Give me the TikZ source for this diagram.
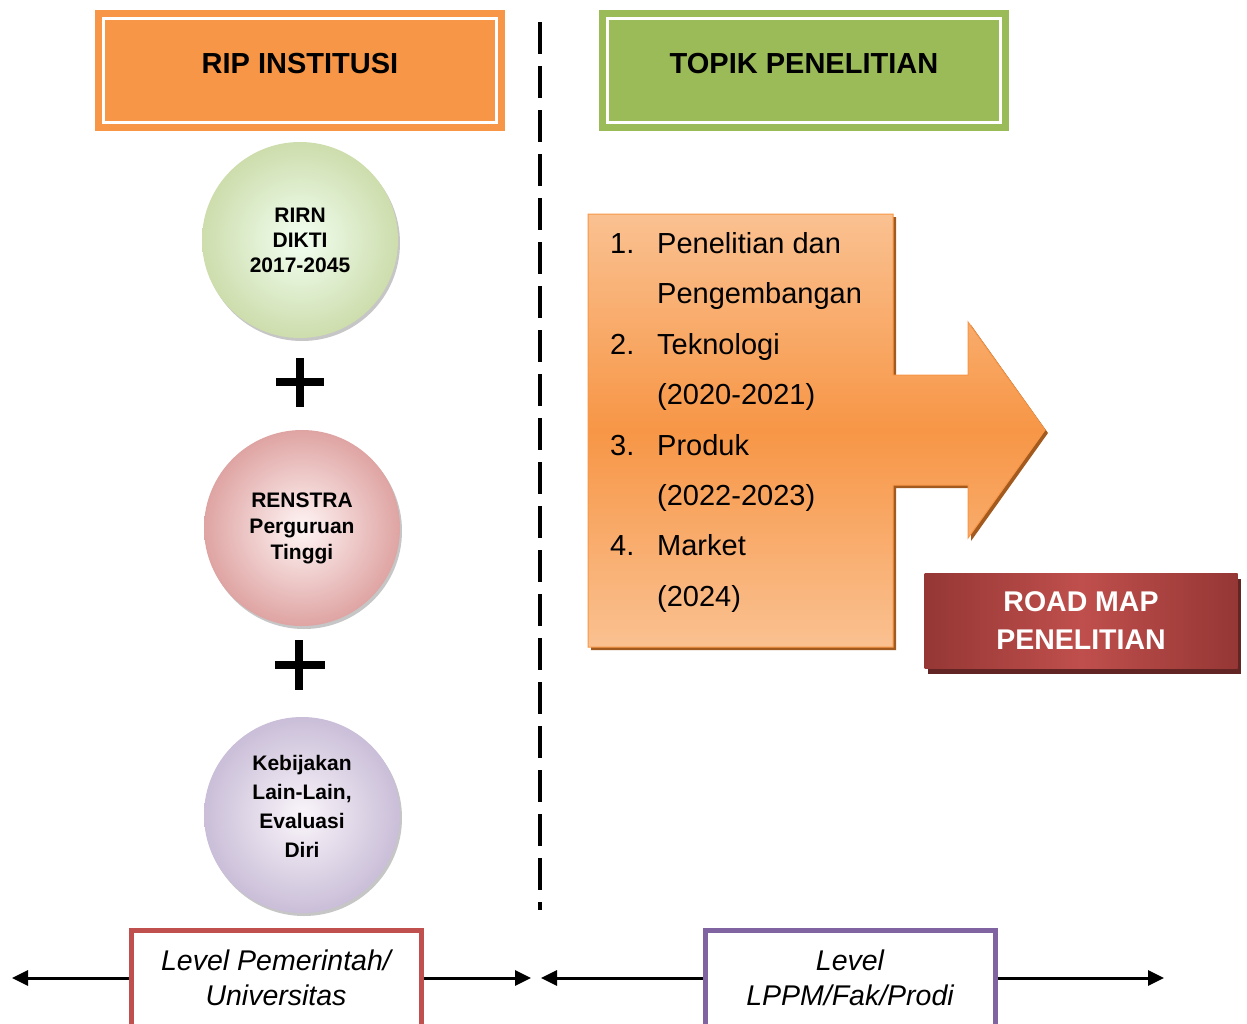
\documentclass[tikz,border=0pt]{standalone}
\usepackage{fontspec}
\setmainfont{Liberation Sans}
\usetikzlibrary{arrows.meta,shadows}
\definecolor{ripor}{HTML}{F79646}
\definecolor{topgr}{HTML}{9BBB59}
\definecolor{lvred}{HTML}{C0504D}
\definecolor{lvpur}{HTML}{8064A2}
\definecolor{listlt}{HTML}{FAC191}
\definecolor{listsh}{HTML}{984807}
\definecolor{mapdk}{HTML}{953735}
\definecolor{mapmd}{HTML}{BF4F4C}
\definecolor{mapsh}{HTML}{632523}
\def\fs#1#2{\fontsize{#1}{#2}\selectfont}

\tikzset{
	header/.style={fill=#1, minimum width=410pt, minimum height=121pt, inner sep=0pt, font=\fs{29}{35}\bfseries, text height=21pt, text depth=16pt},
	inframe/.style={draw=white, line width=3pt},
	bubble/.style n args={3}{circle, minimum size=196pt, inner sep=0pt, align=center, font=\fs{21}{#3}\bfseries, inner color=#1, outer color=#2, drop shadow={shadow xshift=2pt, shadow yshift=-3pt, fill=black!50, opacity=.45}},
	plus/.style={line width=8pt},
	divider/.style={line width=4pt, dash pattern=on 32pt off 12pt},
	listtxt/.style={anchor=base west, inner sep=0pt, font=\fs{29}{35}},
	roadmap/.style={minimum width=313pt, minimum height=95pt, inner sep=0pt, align=center, text=white, font=\fs{28.5}{38}\bfseries, left color=mapdk, right color=mapdk, middle color=mapmd, drop shadow={shadow xshift=3pt, shadow yshift=-5pt, fill=mapsh, opacity=1}},
	levelbox/.style={draw=#1, fill=white, line width=5pt, minimum width=290pt, minimum height=96pt, inner sep=0pt, align=center, font=\fs{28.5}{35}\itshape},
	lvlarrow/.style={line width=3pt, -{Triangle[length=16pt,width=15pt]}}
}

\begin{document}
\begin{tikzpicture}[x=1pt, y=-1pt]
	%%%%% START %%%%%
	\useasboundingbox (0,0) rectangle (1247,1023);
	\clip (0,0) rectangle (1247,1023);
	
	% headers
	\node[header=ripor] (rip) at (300,70.5) {RIP INSTITUSI};
	\draw[inframe] ([shift={(9,9)}]rip.north west) rectangle ([shift={(-9,-9)}]rip.south east);
	\node[header=topgr] (topik) at (804,70.5) {TOPIK PENELITIAN};
	\draw[inframe] ([shift={(9,9)}]topik.north west) rectangle ([shift={(-9,-9)}]topik.south east);
	
	\draw[divider] (540,22) -- (540,910);
	
	% left column
	\node[bubble={green!5!white}{topgr!50!white}{25}] (rirn) at (300,240) {RIRN\\DIKTI\\2017-2045};
	\draw[plus] (276,382) -- (324,382) (300,358) -- (300,407);
	\node[bubble={red!4!white}{lvred!52!white}{26}] (renstra) at (302,528) {RENSTRA\\Perguruan\\Tinggi};
	\draw[plus] (275,665) -- (325,665) (299,640) -- (299,690);
	\node[bubble={violet!4!white}{lvpur!42!white}{29}, text depth=18pt] (kebijakan) at (302,815) {Kebijakan\\Lain-Lain,\\Evaluasi\\Diri};
	
	% list box and arrow
	\path[draw=ripor, line width=1pt, top color=listlt, bottom color=listlt, middle color=ripor, drop shadow={shadow xshift=3pt, shadow yshift=-3pt, fill=listsh, opacity=.9}]
		(588,214) -- (893,214) -- (893,375) -- (968,375) -- (968,322) -- (1045,430) -- (968,538) -- (968,485) -- (893,485) -- (893,647) -- (588,647) -- cycle;
	\foreach \txt [count=\i] in {Penelitian dan, Pengembangan, Teknologi, {(2020-2021)}, Produk, {(2022-2023)}, Market, {(2024)}}
		\node[listtxt] (item\i) at (657,{203+50.4*\i}) {\txt};
	\foreach \n in {1,...,4}
		\node[listtxt] (num\n) at (610,{152.6+100.8*\n}) {\n.};
	
	\node[roadmap] (rmap) at (1081,621) {ROAD MAP\\PENELITIAN};
	
	% levels
	\node[levelbox=lvred] (lvlA) at (276,978) {Level Pemerintah/\\Universitas};
	\node[levelbox=lvpur] (lvlB) at (850,978) {Level\\LPPM/Fak/Prodi};
	\coordinate (endL) at (12,978);
	\coordinate (endM1) at (531,978);
	\coordinate (endM2) at (541,978);
	\coordinate (endR) at (1164,978);
	\draw[lvlarrow] (lvlA.west) -- (endL);
	\draw[lvlarrow] (lvlA.east) -- (endM1);
	\draw[lvlarrow] (lvlB.west) -- (endM2);
	\draw[lvlarrow] (lvlB.east) -- (endR);
	
	%%%%% END %%%%%
\end{tikzpicture}
\end{document}
